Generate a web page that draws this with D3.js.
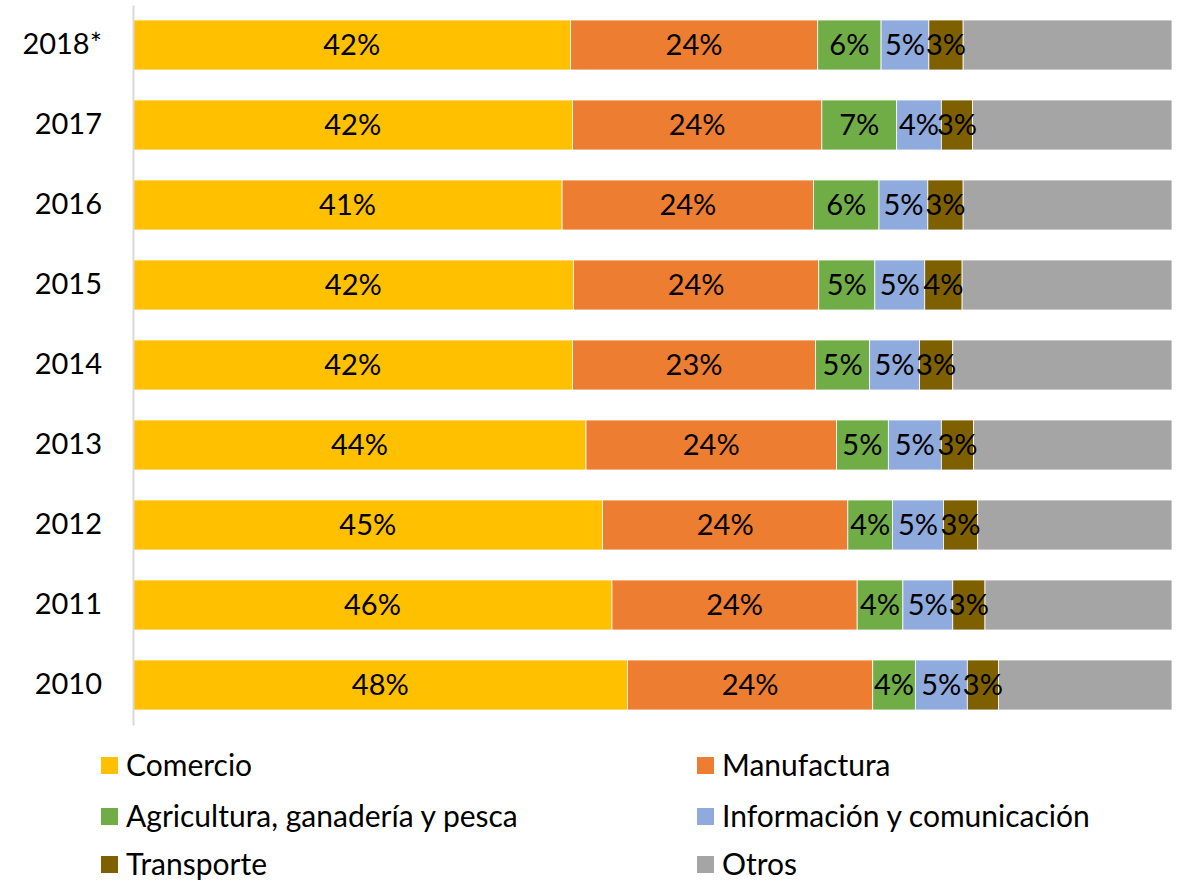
<!DOCTYPE html>
<html>
<head>
<meta charset="utf-8">
<script src="https://cdn.jsdelivr.net/npm/d3@7"></script>
<style>
  html, body { margin: 0; padding: 0; background: #fff; }
  svg { display: block; font-family: Lato, "Open Sans", sans-serif; }
</style>
</head>
<body>
<svg id="chart" width="1178" height="882"></svg>
<script>
const years = ["2018*", "2017", "2016", "2015", "2014", "2013", "2012", "2011", "2010"];
const seriesNames = ["Comercio", "Manufactura", "Agricultura, ganadería y pesca", "Información y comunicación", "Transporte", "Otros"];
const comercio    = [42.1, 42.3, 41.3, 42.4, 42.3, 43.6, 45.2, 46.1, 47.6];
const manufactura = [23.8, 24.0, 24.2, 23.6, 23.4, 24.1, 23.6, 23.6, 23.6];
const agricultura = [6.1, 7.2, 6.3, 5.4, 5.2, 5.0, 4.3, 4.4, 4.1];
const informacion = [4.6, 4.3, 4.7, 4.8, 4.8, 5.1, 4.9, 4.8, 5.0];
const transporte  = [3.3, 3.0, 3.4, 3.6, 3.2, 3.1, 3.3, 3.1, 3.0];
const otros       = [20.1, 19.2, 20.1, 20.2, 21.1, 19.1, 18.7, 18.0, 16.7];
const colors = ["#FFC000", "#ED7D31", "#70AD47", "#8FAADC", "#7F6000", "#A5A5A5"];
const labelled = [true, true, true, true, true, false];

const seriesValues = [comercio, manufactura, agricultura, informacion, transporte, otros];
const keys = seriesNames;
const table = years.map((y, i) => {
  const row = { year: y };
  keys.forEach((k, j) => row[k] = seriesValues[j][i]);
  return row;
});

const svg = d3.select("#chart");
const x = d3.scaleLinear().domain([0, 100]).range([133, 1172]);
const y = d3.scaleBand().domain(years).range([5, 725]).paddingInner(0.375).paddingOuter(0.1875);

const stack = d3.stack().keys(keys);
const stacked = stack(table);

const g = svg.append("g");
stacked.forEach((layer, j) => {
  const lg = g.append("g");
  lg.selectAll("rect").data(layer).join("rect")
    .attr("x", d => x(d[0]))
    .attr("y", d => y(d.data.year))
    .attr("width", d => x(d[1]) - x(d[0]))
    .attr("height", y.bandwidth())
    .attr("fill", colors[j])
    .attr("stroke", "#fff")
    .attr("stroke-width", 0.8);
});
stacked.forEach((layer, j) => {
  if (!labelled[j]) return;
  g.append("g").selectAll("text").data(layer).join("text")
    .attr("x", d => (x(d[0]) + x(d[1])) / 2)
    .attr("y", d => y(d.data.year) + y.bandwidth() / 2)
    .attr("dy", "0.35em")
    .attr("text-anchor", "middle")
    .attr("font-size", 29)
    .attr("fill", "#000")
    .text(d => d3.format(".0f")(d[1] - d[0]) + "%");
});

// axis
const yAxis = d3.axisLeft(y).tickSize(0).tickPadding(31);
const ag = svg.append("g").attr("transform", "translate(133,0)").call(yAxis);
ag.select(".domain").attr("stroke", "#d9d9d9").attr("stroke-width", 2);
ag.selectAll("text").attr("font-size", 29).attr("fill", "#000").attr("font-family", "Lato, sans-serif");

// legend
const legendPos = [[101, 765], [697, 765], [101, 816], [697, 816], [101, 864], [697, 864]];
const leg = svg.append("g");
seriesNames.forEach((name, i) => {
  const [lx, ly] = legendPos[i];
  leg.append("rect").attr("x", lx).attr("y", ly - 8).attr("width", 17).attr("height", 17).attr("fill", colors[i]);
  leg.append("text").attr("x", lx + 25).attr("y", ly).attr("dy", "0.35em")
    .attr("font-size", 30).attr("fill", "#000").text(name);
});
</script>
</body>
</html>
